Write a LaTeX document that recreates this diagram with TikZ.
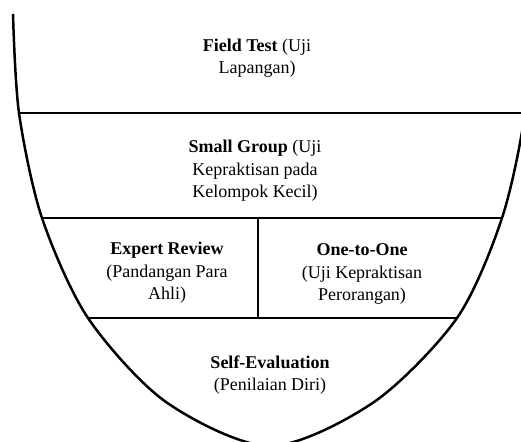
\documentclass[tikz,border=0pt]{standalone}
\usepackage{fontspec}
\setmainfont{Liberation Serif}
\begin{document}
\begin{tikzpicture}[x=1pt,y=-1pt]
\tikzset{label/.style={align=center,font=\fontsize{18}{22.5}\selectfont}}

\useasboundingbox (0,0) rectangle (521,441);
\clip (0,0) rectangle (521,441);

\draw[line width=2.5pt] plot[smooth] coordinates {(13,14) (19,113) (42,218) (88,318) (166,402) (270,446) (374,402) (457,318) (502,218) (525,113) (531,14)};

\draw[line width=2.5pt] (19,113) --(525,113);
\draw[line width=2.5pt] (42,218) --(502,218);
\draw[line width=2.5pt] (88,318) --(457,318);
\draw[line width=2.5pt] (258,218) --(258,318);

\node[label] (field) at (257,58) {\textbf{Field Test} (Uji\\Lapangan)};
\node[label] (small) at (255,171) {\textbf{Small Group} (Uji\\Kepraktisan pada\\Kelompok Kecil)};
\node[label] (expert) at (167,273) {\textbf{Expert Review}\\(Pandangan Para\\Ahli)};
\node[label] (one) at (362,274) {\textbf{One-to-One}\\(Uji Kepraktisan\\Perorangan)};
\node[label] (self) at (270,375) {\textbf{Self-Evaluation}\\(Penilaian Diri)};

\end{tikzpicture}
\end{document}
